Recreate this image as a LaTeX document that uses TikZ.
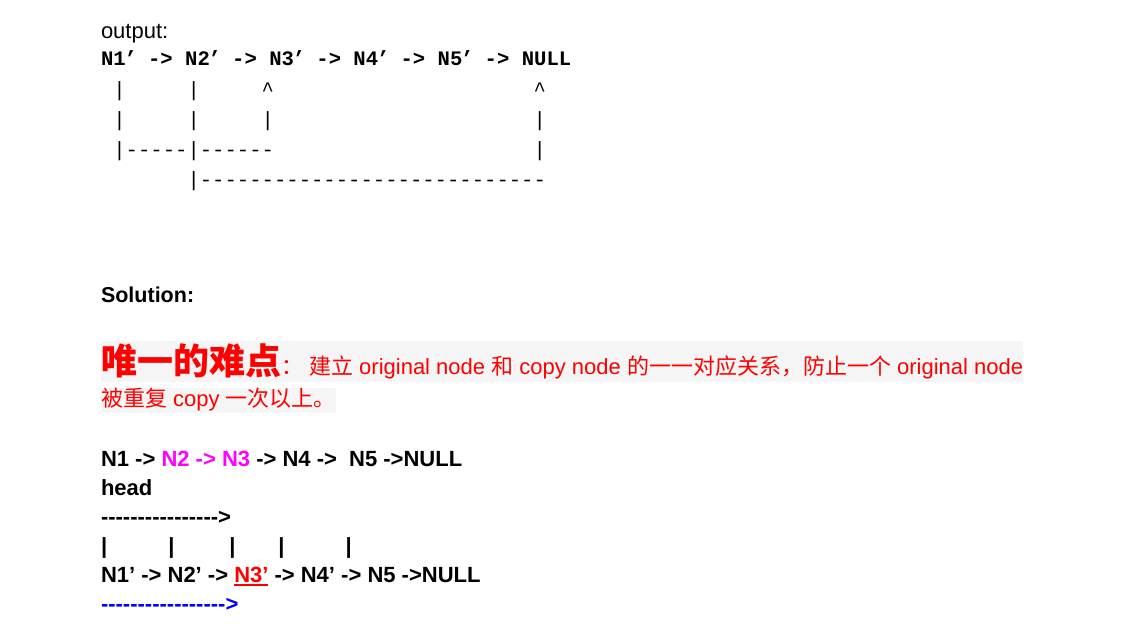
\documentclass[tikz,border=0pt]{standalone}
\usepackage{fontspec}
\setmainfont{Liberation Sans}[Ligatures=TeXOff]
\setmonofont{Liberation Mono}[Ligatures=TeXOff]
\newfontfamily\cjk{Noto Sans CJK SC}
\newcommand{\zh}[1]{{\cjk #1}}
\newcommand{\txtsize}{\fontsize{22}{26}\selectfont}
\newcommand{\monosize}{\fontsize{20.6}{24}\selectfont}
\newcommand{\cols}[1]{\hspace*{\dimexpr0.6em*#1\relax}}
\newcommand{\prm}{\makebox[10pt][c]{’}}
\definecolor{bggray}{HTML}{F5F5F5}
\definecolor{purered}{HTML}{FF0000}
\definecolor{puremagenta}{HTML}{FF00FF}
\definecolor{pureblue}{HTML}{0000FF}

\begin{document}
\begin{tikzpicture}[x=1pt,y=-1pt,
    txt/.style={anchor=base west,inner sep=0pt,outer sep=0pt,font=\txtsize},
    bold txt/.style={txt,font=\txtsize\bfseries},
    mono/.style={txt,font=\monosize\ttfamily}]
    \fill[white] (0,0) rectangle (1139,634);

    % output block
    \node[txt] (output) at (101,38) {output:};
    \node[mono,font=\monosize\ttfamily\bfseries] (out1) at (101,66) {N1\prm{} -> N2\prm{} -> N3\prm{} -> N4\prm{} -> N5\prm{} -> NULL};
    \node[mono] (out2) at (101,96) {\cols{1}|\cols{5}|\cols{5}\textasciicircum\cols{21}\textasciicircum};
    \node[mono] (out3) at (101,126) {\cols{1}|\cols{5}|\cols{5}|\cols{21}|};
    \node[mono] (out4) at (101,156) {\cols{1}|-----|------\cols{21}|};
    \node[mono] (out5) at (101,186) {\cols{7}|----------------------------};

    \node[bold txt,font=\fontsize{21.5}{26}\selectfont\bfseries] (solution) at (101,302.7) {Solution:};

    % red note on grey
    \fill[bggray] (101,341) rectangle (1023,382);
    \fill[bggray] (101,388) rectangle (336,413);
    \node[txt,purered] (hard) at (101,374.5) {{\cjk\bfseries\fontsize{36}{40}\selectfont 唯一的难点}\zh{：} \zh{建立} original node \zh{和} copy node \zh{的一一对应关系，防止一个} original node};
    \node[txt,purered] (hard2) at (101,406) {\zh{被重复} copy \zh{一次以上。}};

    % lists
    \node[bold txt] (orig) at (101,466.5) {N1 -> \textcolor{puremagenta}{N2 -> N3} -> N4 ->~ N5 ->NULL};
    \node[bold txt] (head) at (101,495.5) {head};
    \node[bold txt] (arrow1) at (101,524.5) {---------------->};
    \node[bold txt] (links) at (101,553.5) {|~~~~~~~~~~|~~~~~~~~~|~~~~~~~|~~~~~~~~~~|};
    \node[bold txt] (copyA) at (101,582) {N1’ -> N2’ ->};
    \node[bold txt,purered] (copy3) at ([xshift=6.1pt]copyA.base east) {N3’};
    \node[bold txt] (copyB) at ([xshift=6.1pt]copy3.base east) {-> N4’ -> N5 ->NULL};
    \draw[purered,line width=1.8pt] ([yshift=-3pt]copy3.base west) -- ([yshift=-3pt]copy3.base east);
    \node[bold txt,pureblue] (arrow2) at (101,611) {----------------->};
\end{tikzpicture}
\end{document}
